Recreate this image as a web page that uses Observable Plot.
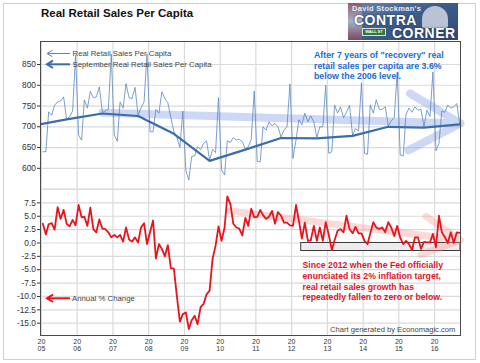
<!DOCTYPE html>
<html><head><meta charset="utf-8">
<script src="https://cdn.jsdelivr.net/npm/d3@7"></script>
<script src="https://cdn.jsdelivr.net/npm/@observablehq/plot@0.6"></script>
<style>
body{margin:0;background:#fff;}
#wrap{position:relative;width:480px;height:363px;overflow:hidden;font-family:"Liberation Sans",Arial,sans-serif;background:#fff;}
#wrap > *{position:absolute;}
#outer{left:3px;top:3px;width:471px;height:355px;border:1px solid #d0d0d0;}
#frame{left:40px;top:41px;width:421px;height:295px;border:1.5px solid #4a4a4a;box-sizing:border-box;pointer-events:none;}
#logo{left:348px;top:3px;width:110px;height:37px;background:linear-gradient(160deg,#6d86ad 0%,#3e5d8c 45%,#2e4a78 100%);overflow:hidden;}
#logo div{position:absolute;font-weight:bold;white-space:nowrap;}
</style></head>
<body>
<div id="wrap">
  <div id="outer"></div>
  <div id="topChart" style="left:0;top:0"></div>
  <div id="botChart" style="left:0;top:185px"></div>
  <div id="frame"></div>
  <div id="logo">
    <div style="left:0;top:0;width:14px;height:37px;background:linear-gradient(#b23a3a,#e8e8e8 50%,#b23a3a);opacity:.55"></div>
    <div style="left:74px;top:3px;width:26px;height:22px;border-radius:13px 13px 2px 2px;background:#d9dee8;opacity:.8"></div>
    <div style="left:4px;top:1px;font-size:7.5px;color:#e6ebf5;letter-spacing:.3px">David Stockman's</div>
    <div style="left:6px;top:9px;font-size:14px;color:#fff;letter-spacing:.5px;text-shadow:0 0 2px #223">CONTRA</div>
    <div style="left:14px;top:25px;width:22px;height:6px;background:#2f7a3a;border:1px solid #ddd;font-size:4px;color:#fff;line-height:6px;text-align:center">WALL ST</div>
    <div style="left:44px;top:22px;font-size:14px;color:#fff;letter-spacing:.5px;text-shadow:0 0 2px #223">CORNER</div>
  </div>
  <svg id="overlay" width="480" height="363" style="left:0;top:0;pointer-events:none;font-family:'Liberation Sans',Arial,sans-serif">
    <text x="41" y="16.8" font-size="11.5" font-weight="bold" fill="#111">Real Retail Sales Per Capita</text>
    <line x1="47" y1="53.5" x2="70" y2="53.5" stroke="#5a86c0" stroke-width="1"/>
    <path d="M52.5,50.3 L47,53.5 L52.5,56.7" fill="none" stroke="#5a86c0" stroke-width="1"/>
    <text x="72.5" y="56.2" font-size="7.8" fill="#444">Real Retail Sales Per Capita</text>
    <line x1="47" y1="64.3" x2="70" y2="64.3" stroke="#3c6da6" stroke-width="2"/>
    <path d="M53,60.6 L47,64.3 L53,68" fill="none" stroke="#3c6da6" stroke-width="2"/>
    <text x="72.5" y="67" font-size="7.8" fill="#444">September Real Retail Sales Per Capita</text>
    <line x1="47" y1="298.3" x2="70" y2="298.3" stroke="#e8141c" stroke-width="2"/>
    <path d="M53,294.6 L47,298.3 L53,302" fill="none" stroke="#e8141c" stroke-width="2"/>
    <text x="72" y="301" font-size="7.8" fill="#444">Annual % Change</text>
    <g font-size="8.8" font-weight="bold" fill="#1c6bd6">
      <text x="314" y="58">After 7 years of "recovery" real</text>
      <text x="314" y="68.7">retail sales per capita are 3.6%</text>
      <text x="314" y="79.4">below the 2006 level.</text>
    </g>
    <g font-size="8.7" font-weight="bold" fill="#e0141e">
      <text x="302.5" y="268">Since 2012 when the Fed officially</text>
      <text x="302.5" y="278.8">enunciated its 2% inflation target,</text>
      <text x="302.5" y="289.6">real retail sales growth has</text>
      <text x="302.5" y="300.4">repeatedly fallen to zero or below.</text>
    </g>
    <text x="330" y="331.8" font-size="7.6" fill="#444">Chart generated by Economagic.com</text>
  </svg>
</div>
<script>
// ---------------- data ----------------
const FONT = "'Liberation Sans', Arial, sans-serif";
const firstYear = 2005;
const lastYear = 2016;
const xStart = new Date(Date.UTC(2005, 0, 1));
const xEnd = new Date(Date.UTC(2016, 8, 22));

// Real retail sales per capita, monthly (not seasonally adjusted), Jan 2005 - Sep 2016
const realSalesPerCapita = [
  640, 640, 736, 728, 752, 760, 762, 772, 718, 724, 738, 872,   // 2005
  680, 668, 765, 745, 785, 770, 772, 796, 735, 738, 742, 875,   // 2006
  680, 665, 760, 745, 804, 770, 768, 795, 728, 745, 760, 876,   // 2007
  688, 688, 742, 733, 784, 768, 758, 722, 688, 675, 650, 738,   // 2008
  595, 572, 628, 630, 652, 645, 660, 666, 620, 645, 638, 770,   // 2009
  596, 584, 666, 662, 674, 668, 670, 664, 647, 652, 670, 786,   // 2010
  616, 616, 700, 692, 712, 702, 708, 700, 675, 692, 700, 803,   // 2011
  624, 668, 717, 705, 733, 712, 726, 712, 674, 700, 700, 800,   // 2012
  636, 640, 752, 733, 748, 722, 735, 752, 680, 696, 690, 806,   // 2013
  636, 634, 753, 733, 765, 742, 742, 748, 702, 714, 722, 830,   // 2014
  632, 630, 730, 745, 735, 748, 740, 742, 700, 740, 725, 832,   // 2015
  642, 660, 738, 735, 752, 745, 748, 756, 706                   // 2016
];

// September real retail sales per capita (one value per year)
const septemberYears  = [2004, 2005, 2006, 2007, 2008, 2009, 2010, 2011, 2012, 2013, 2014, 2015, 2016];
const septemberValues = [702, 718, 732, 726, 683, 618, 645, 673, 672, 678, 700, 698, 706];

// Annual % change, monthly, Jan 2005 - Sep 2016
const annualPctChange = [
  3.6, 1.6, 3.5, 3.7, 2.5, 6.7, 4.5, 6.2, 3.6, 3.1, 4.3, 3.3,          // 2005
  7.1, 4.8, 4.9, 3.2, 6.6, 2.6, 2.0, 4.4, 2.7, 2.6, 2.0, 1.05,         // 2006
  1.5, 1.05, 1.5, 0.25, 2.9, 0.65, 0.25, 1.05, 0.1, 2.9, 3.7, -0.2,    // 2007
  2.0, 4.2, -2.9, -0.2, -1.1, -2.5, -0.4, -4.7, -4.8, -9.9, -14.7, -13.3, // 2008
  -13.0, -16.1, -14.5, -13.6, -15.2, -12.0, -11.4, -9.6, -8.9, -3.0, -0.5, 3.1, // 2009
  0.4, 2.9, 8.7, 7.3, 3.6, 2.9, 2.7, 1.4, 4.7, 3.2, 6.4, 4.8,          // 2010
  4.9, 6.2, 5.2, 4.5, 4.9, 6.0, 3.6, 5.8, 5.1, 3.8, 3.8, 3.3,          // 2011
  3.2, 7.1, 4.2, 0.8, 3.8, 0.4, 0.5, 3.2, 0.4, 2.9, 0.4, 3.9,          // 2012
  1.5, -1.3, 0.5, 2.3, 2.6, 2.0, 5.1, 2.6, 1.8, 3.0, 1.8, 1.8,         // 2013
  0.4, -0.2, 1.8, 3.9, 2.9, 2.6, 2.9, 2.0, 3.9, 2.9, 1.3, 3.2,         // 2014
  1.0, -0.2, 0.4, -0.2, -1.3, 1.05, 1.05, -1.1, 0.2, 0.1, 0.1, 1.7,    // 2015
  -0.8, 5.1, 2.0, 1.1, 0.0, 2.0, 0.0, 2.0, 1.9                        // 2016
];

// tick values
const topTicks = [600, 650, 700, 750, 800, 850];
const topGrid = [550, 600, 650, 700, 750, 800, 850];
const bottomTicks = [-15, -12.5, -10, -7.5, -5, -2.5, 0, 2.5, 5, 7.5];
const bottomGrid = [-15, -12.5, -10, -7.5, -5, -2.5, 0, 2.5, 5, 7.5, 10];
const years = d3.range(firstYear, lastYear + 1);

// annotations
const blueTrend = {start: [2006, 8, 15], startValue: 734, end: [2016, 8, 22], endValue: 708};
const pinkTrend = {start: [2010, 3, 15], startValue: 6.0, end: [2016, 8, 22], endValue: 0.5};
const zeroBox = {start: [2012, 3, 8], end: [2016, 8, 22], low: -1.5, high: 0};

// ---------------- tables ----------------
const utc = (a) => new Date(Date.UTC(a[0], a[1], a[2]));
const yearTicks = years.map(y => new Date(Date.UTC(y, 0, 1)));
const monthly = realSalesPerCapita.map((v, i) => ({date: new Date(Date.UTC(2005, i, 15)), value: v}));
const pct = annualPctChange.map((v, i) => ({date: new Date(Date.UTC(2005, i, 15)), value: v}));
const sept = septemberYears.map((y, i) => ({date: new Date(Date.UTC(y, 8, 15)), value: septemberValues[i]}));
const blueArrow = [{x1: utc(blueTrend.start), y1: blueTrend.startValue, x2: utc(blueTrend.end), y2: blueTrend.endValue}];
const pinkArrow = [{x1: utc(pinkTrend.start), y1: pinkTrend.startValue, x2: utc(pinkTrend.end), y2: pinkTrend.endValue}];
const box = [{x1: utc(zeroBox.start), x2: utc(zeroBox.end), y1: zeroBox.low, y2: zeroBox.high}];

const GRID = "#dadada";
const style = {background: "transparent", overflow: "visible", fontFamily: FONT, fontSize: "8.4px", color: "#333"};

const topPlot = Plot.plot({
  width: 480, height: 189,
  marginTop: 42, marginBottom: 0, marginLeft: 41, marginRight: 20,
  x: {type: "utc", domain: [xStart, xEnd], axis: null},
  y: {domain: [549, 903], axis: null},
  style,
  marks: [
    Plot.ruleX(yearTicks, {stroke: GRID, strokeWidth: 1.2}),
    Plot.ruleY(topGrid, {stroke: GRID, strokeWidth: 1.2}),
    Plot.arrow(blueArrow, {x1: "x1", y1: "y1", x2: "x2", y2: "y2", stroke: "#8fa9e8", strokeOpacity: 0.45, strokeWidth: 8, headLength: 11, headAngle: 58}),
    Plot.line(monthly, {x: "date", y: "value", stroke: "#5a86c0", strokeWidth: 0.8}),
    Plot.line(sept, {x: "date", y: "value", stroke: "#3c6da6", strokeWidth: 2.2, clip: true}),
    Plot.axisY({ticks: topTicks, tickFormat: d => String(d), tickSize: 4, tickPadding: 1.5, label: null, stroke: "#333"})
  ]
});
document.getElementById("topChart").appendChild(topPlot);

const botPlot = Plot.plot({
  width: 480, height: 178,
  marginTop: 4, marginBottom: 28, marginLeft: 41, marginRight: 20,
  x: {type: "utc", domain: [xStart, xEnd]},
  y: {domain: [-17.3, 10]},
  style,
  marks: [
    Plot.ruleX(yearTicks, {stroke: GRID, strokeWidth: 1.2}),
    Plot.ruleY(bottomGrid, {stroke: GRID, strokeWidth: 1.2}),
    Plot.rect(box, {x1: "x1", x2: "x2", y1: "y1", y2: "y2", fill: "#ececec", stroke: "#3a3a3a", strokeWidth: 1}),
    Plot.arrow(pinkArrow, {x1: "x1", y1: "y1", x2: "x2", y2: "y2", stroke: "#ff8f8f", strokeOpacity: 0.35, strokeWidth: 7, headLength: 9, headAngle: 55}),
    Plot.line(pct, {x: "date", y: "value", stroke: "#e8141c", strokeWidth: 1.8}),
    Plot.axisY({ticks: bottomTicks, tickFormat: d => d.toFixed(1), tickSize: 4, tickPadding: 1.5, label: null, stroke: "#333"}),
    Plot.axisX({ticks: yearTicks, tickFormat: d => "20\n" + String(d.getUTCFullYear()).slice(2), tickSize: 0, tickPadding: 4, fontSize: 7, lineHeight: 0.95, label: null})
  ]
});
document.getElementById("botChart").appendChild(botPlot);
</script>
</body></html>
